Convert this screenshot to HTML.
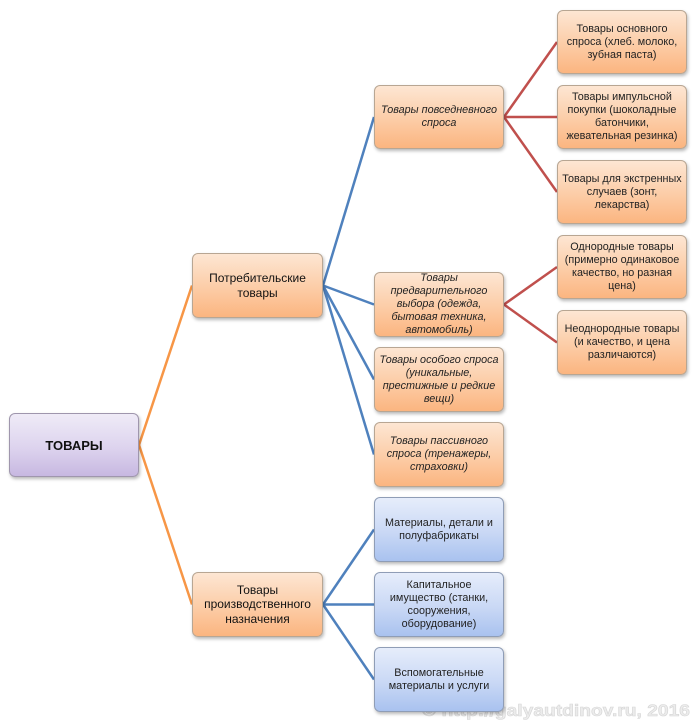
<!DOCTYPE html>
<html><head><meta charset="utf-8">
<style>
html,body{margin:0;padding:0;background:#fff;}
body{width:700px;height:724px;position:relative;overflow:hidden;font-family:"Liberation Sans","DejaVu Sans",sans-serif;}
svg.c{position:absolute;left:0;top:0;}
.b{position:absolute;box-sizing:border-box;border-radius:6px;display:flex;align-items:center;justify-content:center;text-align:center;white-space:nowrap;color:#222;font-size:10.8px;line-height:13px;box-shadow:1px 2px 3px rgba(0,0,0,0.28);}
.o{background:linear-gradient(to bottom,#fde6d3 0%,#fccca6 55%,#fbb580 100%);border:1px solid #b8a693;}
.p{background:linear-gradient(to bottom,#efebf7 0%,#ddd3ee 55%,#c7b8e1 100%);border:1px solid #9f96ad;}
.u{background:linear-gradient(to bottom,#e6edfb 0%,#c9d8f5 55%,#a9c2ef 100%);border:1px solid #8f9db6;}
.i{font-style:italic;}
.m{font-size:12px;line-height:14.5px;color:#111;}
</style></head><body>
<svg class="c" width="700" height="724" viewBox="0 0 700 724">
<g stroke="#f79646" stroke-width="2.5" fill="none">
<line x1="139" y1="445" x2="192" y2="285.5"/>
<line x1="139" y1="445" x2="192" y2="604.5"/>
</g>
<g stroke="#4f81bd" stroke-width="2.5" fill="none">
<line x1="323" y1="285.5" x2="374" y2="117"/>
<line x1="323" y1="285.5" x2="374" y2="304.5"/>
<line x1="323" y1="285.5" x2="374" y2="379.5"/>
<line x1="323" y1="285.5" x2="374" y2="454.5"/>
<line x1="323" y1="604.5" x2="374" y2="529.5"/>
<line x1="323" y1="604.5" x2="374" y2="604.5"/>
<line x1="323" y1="604.5" x2="374" y2="679.5"/>
</g>
<g stroke="#c0504d" stroke-width="2.5" fill="none">
<line x1="504" y1="117" x2="557" y2="42"/>
<line x1="504" y1="117" x2="557" y2="117"/>
<line x1="504" y1="117" x2="557" y2="192"/>
<line x1="504" y1="304.5" x2="557" y2="267"/>
<line x1="504" y1="304.5" x2="557" y2="342.5"/>
</g>
<text x="422" y="716" textLength="268" lengthAdjust="spacingAndGlyphs" font-family="Liberation Sans, sans-serif" font-weight="bold" font-size="17" fill="#ececec" stroke="#d6d6d6" stroke-width="0.6">© http://galyautdinov.ru, 2016</text>
</svg>

<div class="b p" style="left:9px;top:413px;width:130px;height:64px;font-weight:bold;font-size:13px;color:#111;">ТОВАРЫ</div>

<div class="b o m" style="left:192px;top:253px;width:131px;height:65px;">Потребительские<br>товары</div>
<div class="b o m" style="left:192px;top:572px;width:131px;height:65px;">Товары<br>производственного<br>назначения</div>

<div class="b o i" style="left:374px;top:85px;width:130px;height:64px;">Товары повседневного<br>спроса</div>
<div class="b o i" style="left:374px;top:272px;width:130px;height:65px;">Товары<br>предварительного<br>выбора (одежда,<br>бытовая техника,<br>автомобиль)</div>
<div class="b o i" style="left:374px;top:347px;width:130px;height:65px;">Товары особого спроса<br>(уникальные,<br>престижные и редкие<br>вещи)</div>
<div class="b o i" style="left:374px;top:422px;width:130px;height:65px;">Товары пассивного<br>спроса (тренажеры,<br>страховки)</div>

<div class="b u" style="left:374px;top:497px;width:130px;height:65px;">Материалы, детали и<br>полуфабрикаты</div>
<div class="b u" style="left:374px;top:572px;width:130px;height:65px;">Капитальное<br>имущество (станки,<br>сооружения,<br>оборудование)</div>
<div class="b u" style="left:374px;top:647px;width:130px;height:65px;">Вспомогательные<br>материалы и услуги</div>

<div class="b o" style="left:557px;top:10px;width:130px;height:64px;">Товары основного<br>спроса (хлеб. молоко,<br>зубная паста)</div>
<div class="b o" style="left:557px;top:85px;width:130px;height:64px;">Товары импульсной<br>покупки (шоколадные<br>батончики,<br>жевательная резинка)</div>
<div class="b o" style="left:557px;top:160px;width:130px;height:64px;">Товары для экстренных<br>случаев (зонт,<br>лекарства)</div>
<div class="b o" style="left:557px;top:235px;width:130px;height:64px;">Однородные товары<br>(примерно одинаковое<br>качество, но разная<br>цена)</div>
<div class="b o" style="left:557px;top:310px;width:130px;height:65px;">Неоднородные товары<br>(и качество, и цена<br>различаются)</div>
</body></html>
